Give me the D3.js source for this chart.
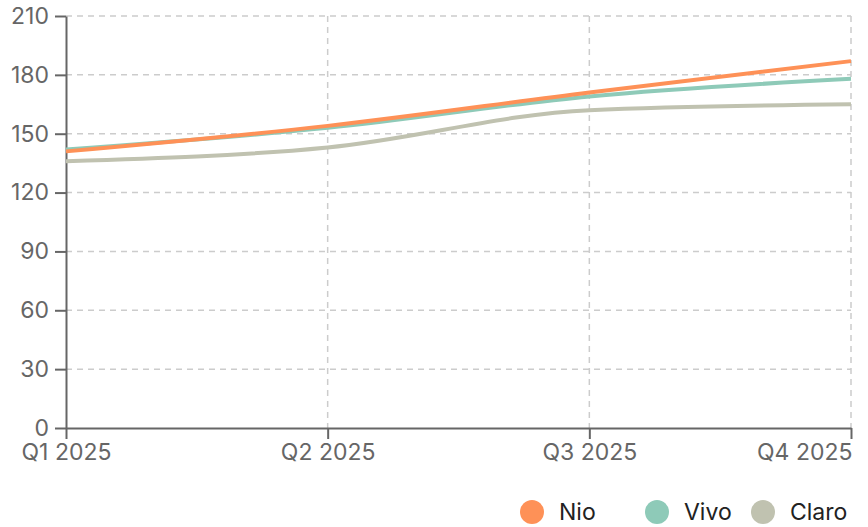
<!DOCTYPE html>
<html>
<head>
<meta charset="utf-8">
<script src="https://cdn.jsdelivr.net/npm/d3@7"></script>
<style>
  body { margin: 0; background: #fff; }
  svg { display: block; font-family: Inter, "Noto Sans", sans-serif; }
</style>
</head>
<body>
<div id="chart"></div>
<script>
var quarters = ["Q1 2025", "Q2 2025", "Q3 2025", "Q4 2025"];
var yTicks = [0, 30, 60, 90, 120, 150, 180, 210];
var seriesNames = ["Nio", "Vivo", "Claro"];
var seriesColors = ["#fe9157", "#8ecab8", "#c0c2b0"];
var nioValues = [141, 154, 171, 187];
var vivoValues = [142, 153, 169, 178];
var claroValues = [136, 143, 162, 165];

var W = 868, H = 527;
var margin = {top: 16, right: 17, bottom: 99, left: 66},
  width = W - margin.left - margin.right,
  height = H - margin.top - margin.bottom;

var svg = d3.select("#chart").append("svg")
  .attr("width", W)
  .attr("height", H)
  .append("g")
  .attr("transform", "translate(" + margin.left + "," + margin.top + ")");

var x = d3.scalePoint().domain(quarters).range([0, width]);
var y = d3.scaleLinear().domain([0, 210]).range([height, 0]);

// grid
svg.append("g").selectAll("line.h")
  .data(yTicks.filter(function(d) { return d > 0; }))
  .enter().append("line")
  .attr("x1", 0).attr("x2", width)
  .attr("y1", function(d) { return y(d); })
  .attr("y2", function(d) { return y(d); })
  .style("stroke", "#cccccc")
  .style("stroke-width", 1.5)
  .style("stroke-dasharray", "6,5");

svg.append("g").selectAll("line.v")
  .data(quarters.slice(1))
  .enter().append("line")
  .attr("x1", function(d) { return x(d); })
  .attr("x2", function(d) { return x(d); })
  .attr("y1", 0).attr("y2", height)
  .style("stroke", "#cccccc")
  .style("stroke-width", 1.5)
  .style("stroke-dasharray", "6,5");

// axes
var yAxis = svg.append("g")
  .call(d3.axisLeft(y).tickValues(yTicks).tickSize(11).tickPadding(6).tickSizeOuter(0));
var xAxis = svg.append("g")
  .attr("transform", "translate(0," + height + ")")
  .call(d3.axisBottom(x).tickSize(11).tickPadding(5).tickSizeOuter(0));

[yAxis, xAxis].forEach(function(a) {
  a.selectAll("path, line").style("stroke", "#666").style("stroke-width", 2);
  a.selectAll("text")
    .style("font-family", "Inter, sans-serif")
    .style("font-size", "23px")
    .style("fill", "#666");
});
xAxis.selectAll(".tick text")
  .attr("text-anchor", function(d, i) { return i === quarters.length - 1 ? "end" : "middle"; })
  .attr("dx", function(d, i) { return i === quarters.length - 1 ? "1" : "0"; });

// lines
var allValues = [nioValues, vivoValues, claroValues];
var line = d3.line()
  .x(function(d, i) { return x(quarters[i]); })
  .y(function(d) { return y(d); })
  .curve(d3.curveMonotoneX);

// draw Claro first, then Vivo, then Nio on top
[2, 1, 0].forEach(function(k) {
  svg.append("path")
    .datum(allValues[k])
    .attr("d", line)
    .style("fill", "none")
    .style("stroke", seriesColors[k])
    .style("stroke-width", 4)
    .style("stroke-linecap", "butt");
});

// legend
var legendX = [532, 657, 763];
var legend = d3.select("svg").append("g");
seriesNames.forEach(function(name, i) {
  var g = legend.append("g").attr("transform", "translate(" + legendX[i] + ",512)");
  g.append("circle").attr("r", 12).style("fill", seriesColors[i]);
  g.append("text")
    .attr("x", 27)
    .attr("dy", "0.36em")
    .style("font-family", "Inter, sans-serif")
    .style("font-size", "23px")
    .style("fill", "#222")
    .text(name);
});
</script>
</body>
</html>
